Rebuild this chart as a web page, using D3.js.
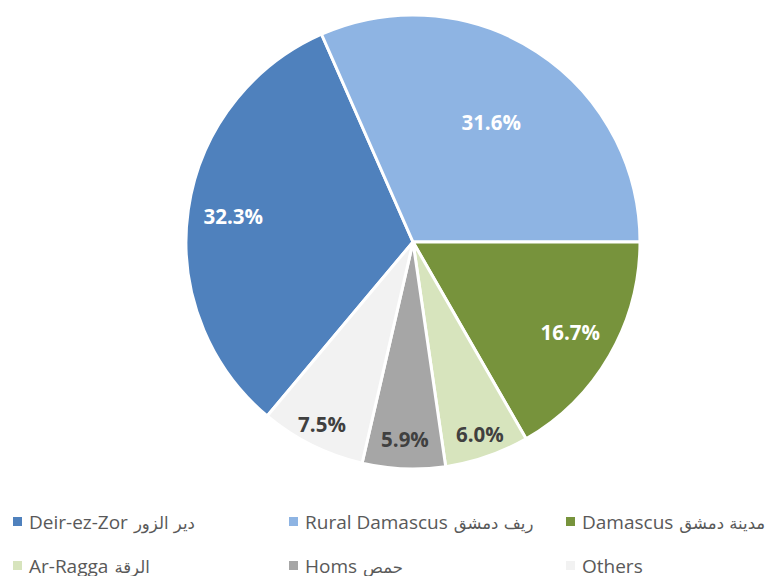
<!DOCTYPE html>
<html>
<head>
<meta charset="utf-8">
<script src="https://cdn.jsdelivr.net/npm/d3@7"></script>
<style>
  body { margin: 0; background: #fff; }
  text { font-family: "Open Sans", Lato, sans-serif; }
  tspan.ar { font-family: "DejaVu Sans", sans-serif; }
</style>
</head>
<body>
<div id="chart"></div>
<script>
// data
const namesEn = ["Deir-ez-Zor", "Rural Damascus", "Damascus", "Ar-Ragga", "Homs", "Others"];
const namesAr = ["دير الزور", "ريف دمشق", "مدينة دمشق", "الرقة", "حمص", ""];
const shares = [32.3, 31.6, 16.7, 6.0, 5.9, 7.5];
const colors = ["#4f81bd", "#8eb4e3", "#77933c", "#d7e4bd", "#a6a6a6", "#f2f2f2"];
const labelColors = ["#fff", "#fff", "#fff", "#404040", "#404040", "#404040"];

// layout
const width = 772, height = 576;
const cx = 413, cy = 242, radius = 227;
const firstSliceAngle = -140.04; // degrees, clockwise from 12 o'clock
const labelRadius = [0.8, 0.63, 0.8, 0.9, 0.87, 0.9]; // fraction of radius, Excel "best fit"

const svg = d3.select("#chart")
    .append("svg")
    .attr("width", width)
    .attr("height", height);

const start = firstSliceAngle * Math.PI / 180;
const pie = d3.pie()
    .sort(null)
    .value(d => d.value)
    .startAngle(start)
    .endAngle(start + 2 * Math.PI);

const data = namesEn.map((n, i) => ({ en: n, ar: namesAr[i], value: shares[i], i: i }));
const arcs = pie(data);

const arc = d3.arc().innerRadius(0).outerRadius(radius);

const g = svg.append("g").attr("transform", `translate(${cx},${cy})`);

g.selectAll("path")
    .data(arcs)
    .enter().append("path")
    .attr("d", arc)
    .attr("fill", d => colors[d.data.i])
    .attr("stroke", "#fff")
    .attr("stroke-width", 3)
    .attr("stroke-linejoin", "round");

// percentage labels
g.selectAll("text.lbl")
    .data(arcs)
    .enter().append("text")
    .attr("class", "lbl")
    .attr("transform", d => {
        const r = radius * labelRadius[d.data.i];
        const a = (d.startAngle + d.endAngle) / 2;
        return `translate(${r * Math.sin(a)},${-r * Math.cos(a)})`;
    })
    .attr("text-anchor", "middle")
    .attr("dy", "0.36em")
    .attr("font-size", 20.5)
    .attr("font-weight", "bold")
    .attr("fill", d => labelColors[d.data.i])
    .text(d => d3.format(".1f")(d.data.value) + "%");

// legend
const colX = [13, 289, 566];
const rowY = [522, 566];
const leg = svg.selectAll("g.leg")
    .data(data)
    .enter().append("g")
    .attr("class", "leg")
    .attr("transform", (d, i) => `translate(${colX[i % 3]},${rowY[Math.floor(i / 3)]})`);

leg.append("rect")
    .attr("x", 0)
    .attr("y", -5)
    .attr("width", 9)
    .attr("height", 9)
    .attr("fill", d => colors[d.i]);

const lt = leg.append("text")
    .attr("x", 16)
    .attr("dy", "0.35em")
    .attr("font-size", 19)
    .attr("fill", "#595959")
    .attr("direction", "ltr");

lt.append("tspan").text(d => d.en);
lt.append("tspan")
    .attr("class", "ar")
    .attr("font-size", 16.5)
    .attr("dx", 6)
    .text(d => d.ar);
</script>
</body>
</html>
